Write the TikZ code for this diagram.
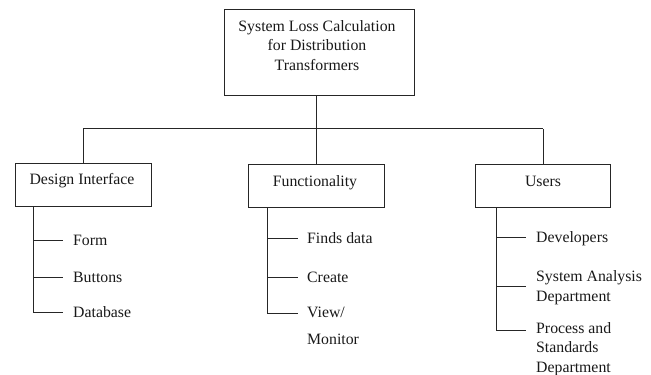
\documentclass[tikz,border=0pt]{standalone}
\usepackage{fontspec}
\setmainfont{Liberation Serif}
\begin{document}
\begin{tikzpicture}[x=1pt,y=-1pt,
  ln/.style={draw=black!85,line width=0.9pt},
  boxstyle/.style={ln,fill=white,rectangle,inner sep=0pt},
  txt/.style={font=\fontsize{15.8}{19.3}\selectfont,inner sep=0pt,text=black!90},
  item/.style={txt,anchor=base west,align=left}]
\useasboundingbox (0,0) rectangle (651,375);
% top
\node[boxstyle,minimum width=190,minimum height=86] (top) at (319,52) {};
\node[txt,align=center,anchor=base] (toptxt) at (317,70) {System Loss Calculation\\for Distribution\\Transformers};
% level boxes
\node[boxstyle,minimum width=136,minimum height=43] (design) at (83,184.5) {};
\node[txt,anchor=base] (designtxt) at (82,184) {Design Interface};
\node[boxstyle,minimum width=136,minimum height=43] (func) at (316,185.5) {};
\node[txt,anchor=base] (functxt) at (315,186) {Functionality};
\node[boxstyle,minimum width=135,minimum height=43] (users) at (543,185.5) {};
\node[txt,anchor=base] (userstxt) at (543,186) {Users};
% top connectors
\coordinate (hl) at (83,128.5);
\coordinate (hr) at (543,128.5);
\draw[ln] (hl) -- (hr);
\draw[ln] (top.south -| func.north) -- (func.north);
\draw[ln] (design.north) -- (design.north |- hl);
\draw[ln] (users.north) -- (users.north |- hr);
% design items
\node[item] (form) at (73,245) {Form};
\node[item] (buttons) at (73,282) {Buttons};
\node[item] (database) at (73,317) {Database};
\coordinate (dtop) at (33,206);
\coordinate (d1) at (63,240);
\coordinate (d2) at (63,277);
\coordinate (d3) at (63,312);
\draw[ln] (dtop) |- (d3);
\draw[ln] (dtop |- d1) -- (d1);
\draw[ln] (dtop |- d2) -- (d2);
% functionality items
\node[item] (finds) at (307,243) {Finds data};
\node[item] (create) at (307,282) {Create};
\node[item] (view) at (307,344) {View/\\[7pt]Monitor};
\coordinate (ftop) at (267,207);
\coordinate (f1) at (298,238);
\coordinate (f2) at (298,277);
\coordinate (f3) at (298,313);
\draw[ln] (ftop) |- (f3);
\draw[ln] (ftop |- f1) -- (f1);
\draw[ln] (ftop |- f2) -- (f2);
% users items
\node[item] (dev) at (536,242) {Developers};
\node[item] (sad) at (536,301) {System Analysis\\Department};
\node[item] (psd) at (536,372) {Process and\\Standards\\Department};
\coordinate (utop) at (496,207);
\coordinate (u1) at (526,237);
\coordinate (u2) at (526,286);
\coordinate (u3) at (526,330);
\draw[ln] (utop) |- (u3);
\draw[ln] (utop |- u1) -- (u1);
\draw[ln] (utop |- u2) -- (u2);
\end{tikzpicture}
\end{document}
